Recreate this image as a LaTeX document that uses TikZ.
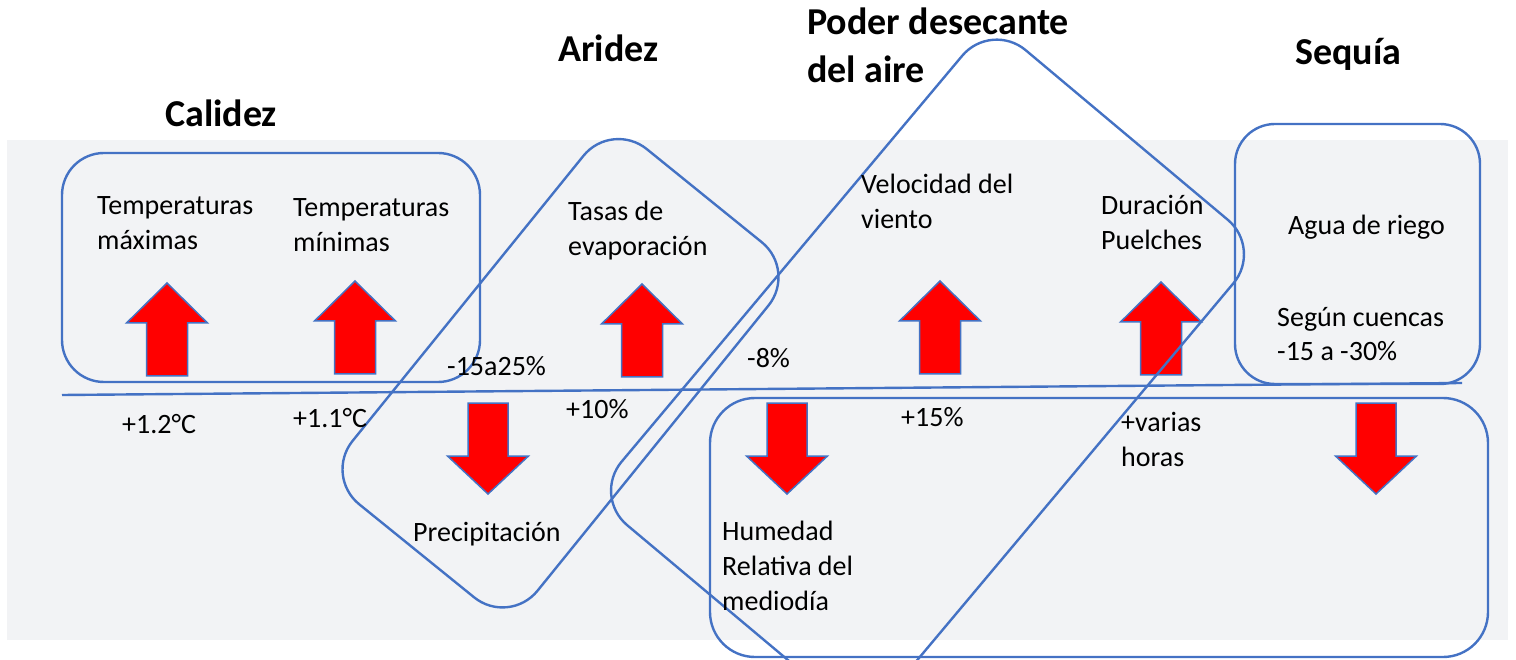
\documentclass[tikz,border=0pt]{standalone}
\usepackage{fontspec}
\setmainfont{Carlito}
\usepackage{tikz}
\usetikzlibrary{calc}

\definecolor{lineblue}{RGB}{68,114,196}
\definecolor{bandgray}{RGB}{242,243,245}
\definecolor{arrowred}{RGB}{255,0,0}

\tikzset{
    frame/.style={draw=lineblue, line width=2.4pt, rounded corners=#1},
    frame/.default=42pt,
    tiltframe/.style={frame=45pt, rotate=#1, inner sep=0pt},
    lbl/.style={anchor=base west, inner sep=0pt, align=left, font=\fontsize{28}{35}\selectfont},
    ttl/.style={anchor=base west, inner sep=0pt, align=left, font=\fontsize{38}{48}\selectfont\bfseries},
    arrowbody/.style={fill=arrowred, draw=lineblue, line width=1.5pt},
    uparrow/.pic={
        \filldraw[arrowbody] (0,0) -- (40.5,40) -- (20.5,40) -- (20.5,93)
            -- (-20.5,93) -- (-20.5,40) -- (-40.5,40) -- cycle;
    },
    downarrow/.pic={
        \filldraw[arrowbody] (0,0) -- (40.5,-38) -- (20,-38) -- (20,-91)
            -- (-20,-91) -- (-20,-38) -- (-40.5,-38) -- cycle;
    }
}

\begin{document}
\begin{tikzpicture}[x=1pt, y=-1pt]
        \useasboundingbox (0,0) rectangle (1516,660);
        \clip (0,0) rectangle (1516,660);

        \fill[bandgray] (7,140) rectangle (1508,640);

        % Arrows
        \pic at (167,283) {uparrow};
        \pic at (355,281) {uparrow};
        \pic at (642,284) {uparrow};
        \pic at (940,281) {uparrow};
        \pic at (1161,282) {uparrow};
        \pic at (488,494) {downarrow};
        \pic at (787,494) {downarrow};
        \pic at (1376,494) {downarrow};

        % Boxes
        \draw[frame] (62,153) rectangle (480,382);
        \draw[frame=40pt] (1235,124) rectangle (1480,384);
        \draw[frame=45pt] (710,398) rectangle (1488,657);
        \node[tiltframe=51, minimum width=457pt, minimum height=238pt] (aridezbox) at (560.5,373.25) {};
        \node[tiltframe=50, minimum width=620pt, minimum height=354pt] (poderbox) at (927.5,372.5) {};

        \coordinate (axisL) at (62,395);
        \coordinate (axisR) at (1462,383);
        \draw[lineblue, line width=2.4pt] (axisL) -- (axisR);

        % Titles (base = last line)
        \node[ttl] (calidez) at (165,127) {Calidez};
        \node[ttl] (aridez) at (558,62) {Aridez};
        \node[ttl] (poder) at (807,83) {Poder desecante\\del aire};
        \node[ttl] (sequia) at (1295,65) {Sequía};

        % Labels
        \node[lbl] (tmax) at (97,250) {Temperaturas\\máximas};
        \node[lbl] (tmin) at (293,252) {Temperaturas\\mínimas};
        \node[lbl] (tasas) at (568,256) {Tasas de\\evaporación};
        \node[lbl] (veloc) at (861,229) {Velocidad del\\viento};
        \node[lbl] (durac) at (1101,250) {Duración\\Puelches};
        \node[lbl] (agua) at (1288,235) {Agua de riego};
        \node[lbl] (cuencas) at (1277,361) {Según cuencas\\-15 a -30\%};
        \node[lbl] (precip) at (413,541) {Precipitación};
        \node[lbl] (humedad) at (722,610) {Humedad\\Relativa del\\mediodía};

        % Values
        \node[lbl] (vtmax) at (122,433) {+1.2°C};
        \node[lbl] (vtmin) at (293,427) {+1.1°C};
        \node[lbl] (vprecip) at (447,375) {-15a25\%};
        \node[lbl] (vtasas) at (566,418) {+10\%};
        \node[lbl] (vhum) at (747,368) {-8\%};
        \node[lbl] (vveloc) at (901,426) {+15\%};
        \node[lbl] (vdurac) at (1121,466) {+varias\\horas};
    \end{tikzpicture}
\end{document}
